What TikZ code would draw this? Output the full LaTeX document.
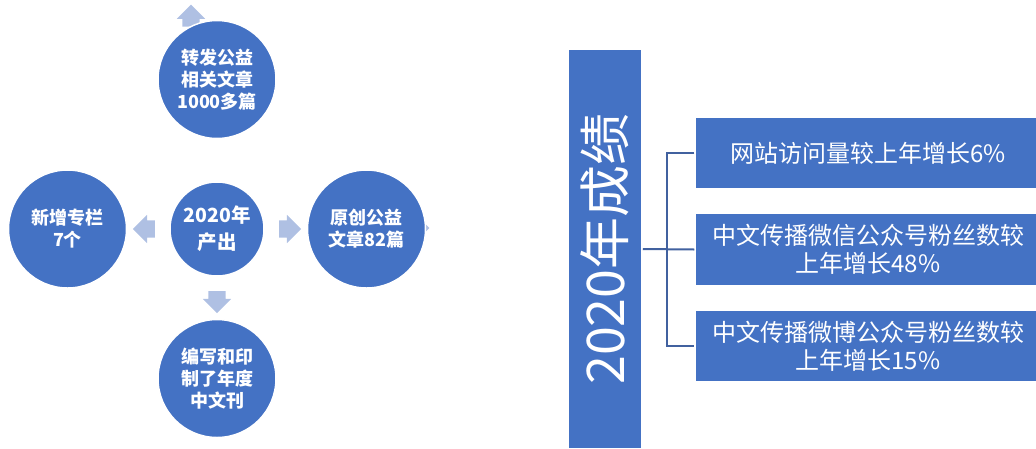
\documentclass[tikz,border=0pt]{standalone}
\usepackage{fontspec}
\newfontfamily\cjk{Noto Sans CJK SC}
\usetikzlibrary{positioning, calc, shapes.arrows}
\definecolor{OrbBlue}{HTML}{4472C4}
\definecolor{PaleBlue}{HTML}{AFC0E3}
\definecolor{LinkBlue}{HTML}{41619F}

\begin{document}
\begin{tikzpicture}[
  x=1pt, y=-1pt,
  node distance=42pt,
  orb/.style={circle, fill=OrbBlue, draw=white, line width=1.5pt, text=white,
    align=center, font=\cjk\bfseries\fontsize{18}{22}\selectfont,
    minimum size=118pt, inner sep=0pt},
  hub/.style={orb, minimum size=94pt, font=\cjk\bfseries\fontsize{19.5}{27}\selectfont},
  blockarr/.style={single arrow, fill=PaleBlue, draw=none, inner sep=0pt,
    single arrow head extend=5.5pt, minimum height=22pt},
  harr/.style={blockarr, inner ysep=8.5pt},
  varr/.style={blockarr, inner xsep=8.5pt},
  titlebox/.style={rectangle, fill=OrbBlue, draw=white, line width=1.5pt, text=white,
    minimum width=74pt, minimum height=400pt, inner sep=0pt,
    font=\cjk\fontsize{52}{52}\selectfont},
  statbox/.style={rectangle, fill=OrbBlue, draw=white, line width=1.5pt, text=white,
    align=center, minimum width=346pt, minimum height=72pt, inner sep=0pt,
    font=\cjk\fontsize{24}{28}\selectfont},
  link/.style={draw=LinkBlue, line width=2pt}
]
  \useasboundingbox (0,0) rectangle (1036,448);
  \clip (0,0) rectangle (1036,448);

  \node[varr, shape border rotate=90] (upstray) at (191,20) {};
  \node[harr] (rtstray) at (414,228) {};

  \node[hub] (ctr) at (217,229) {2020年\\产出};
  \node[orb, above=of ctr] (top) {转发公益\\相关文章\\1000多篇};
  \node[orb, left=of ctr]  (lft) {新增专栏\\7个};
  \node[orb, right=of ctr] (rgt) {原创公益\\文章82篇};
  \node[orb, below=of ctr] (bot) {编写和印\\制了年度\\中文刊};

  \node[harr, shape border rotate=180] at ($(ctr.west)!0.5!(lft.east)$) {};
  \node[harr] at ($(ctr.east)!0.5!(rgt.west)$) {};
  \node[varr, shape border rotate=270] at ($(ctr.south)!0.5!(bot.north)$) {};

  \node[titlebox] (title) at (605,249) {\rotatebox{90}{2020年成绩}};
  \node[statbox] (web) at (868,153) {网站访问量较上年增长6\%};
  \node[statbox, below=23pt of web] (wx) {中文传播微信公众号粉丝数较\\上年增长48\%};
  \node[statbox, below=23pt of wx]  (wb) {中文传播微博公众号粉丝数较\\上年增长15\%};

  \draw[link] (title.east) -- (wx.west);
  \draw[link] (web.west) -- ++(-27,0) |- (wb.west);
\end{tikzpicture}
\end{document}
